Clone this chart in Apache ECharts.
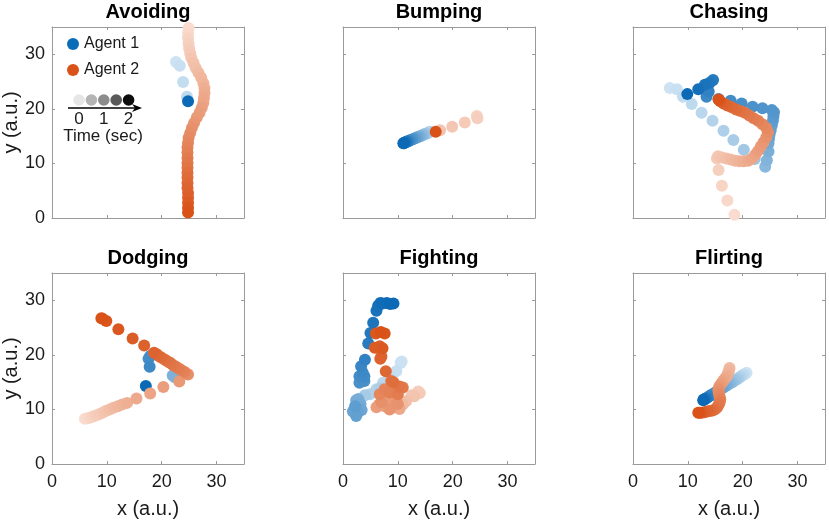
<!DOCTYPE html>
<html>
<head>
<meta charset="utf-8">
<script src="https://cdn.jsdelivr.net/npm/echarts@6/dist/echarts.min.js"></script>
<style>
html, body { margin: 0; padding: 0; background: #fff; }
#chart { width: 829px; height: 524px; }
</style>
</head>
<body>
<div id="chart"></div>
<script>
var panelTitles = ['Avoiding', 'Bumping', 'Chasing', 'Dodging', 'Fighting', 'Flirting'];
var agentNames = ['Agent 1', 'Agent 2'];
var axisMin = 0, axisMax = 35, axisStep = 10;
var timeTicks = ['0', '1', '2'];
var timeShades = ['#e6e6e6', '#b4b4b4', '#8c8c8c', '#5a5a5a', '#0d0d0d'];

// each point: [x, y, time in sec]
var avoidA1 = [[22.6, 28.6, 0.0], [23.3, 27.9, 0.05], [23.9, 24.9, 0.1], [24.6, 22.2, 0.15], [24.8, 21.4, 2.0]];
var avoidA2 = [
    [24.9, 34.8, 0.0], [24.8, 33.9, 0.05], [24.8, 33.0, 0.11], [24.9, 32.0, 0.16], [25.0, 31.1, 0.22],
    [25.2, 30.2, 0.27], [25.4, 29.3, 0.32], [25.8, 28.4, 0.38], [26.2, 27.5, 0.43], [26.7, 26.6, 0.49],
    [27.2, 25.7, 0.54], [27.6, 24.7, 0.59], [27.8, 23.8, 0.65], [27.8, 22.9, 0.70], [27.7, 22.0, 0.76],
    [27.6, 21.1, 0.81], [27.3, 20.2, 0.86], [26.9, 19.3, 0.92], [26.4, 18.4, 0.97], [25.9, 17.4, 1.03],
    [25.5, 16.5, 1.08], [25.2, 15.6, 1.14], [24.9, 14.7, 1.19], [24.8, 13.8, 1.24], [24.7, 12.9, 1.30],
    [24.7, 12.0, 1.35], [24.7, 11.0, 1.41], [24.7, 10.1, 1.46], [24.7, 9.2, 1.51], [24.7, 8.3, 1.57],
    [24.7, 7.4, 1.62], [24.7, 6.4, 1.68], [24.7, 5.5, 1.73], [24.8, 4.6, 1.78], [24.8, 3.7, 1.84],
    [24.8, 2.8, 1.89], [24.8, 1.9, 1.95], [24.8, 1.0, 2.0]
];
var bumpA1 = [
    [15.9, 15.8, 0.2], [15.6, 15.7, 0.3], [15.3, 15.5, 0.4], [15.0, 15.4, 0.5], [14.7, 15.3, 0.6],
    [14.4, 15.1, 0.7], [14.1, 15.0, 0.8], [13.8, 14.9, 0.9], [13.5, 14.8, 1.0], [13.2, 14.6, 1.1],
    [12.9, 14.5, 1.2], [12.6, 14.4, 1.3], [12.3, 14.3, 1.4], [12.0, 14.1, 1.5], [11.8, 14.0, 1.6],
    [11.6, 14.0, 1.7], [11.4, 13.9, 1.8], [11.2, 13.8, 1.9], [11.1, 13.7, 1.95], [11.0, 13.7, 2.0]
];
var bumpA2 = [[24.4, 18.7, 0.15], [24.5, 18.3, 0.2], [22.2, 17.5, 0.25], [19.9, 16.7, 0.3], [17.7, 16.1, 0.35], [16.9, 15.8, 2.0]];
var chaseA1 = [
    [6.7, 23.8, 0.0], [8.0, 23.6, 0.05], [9.1, 22.2, 0.1], [10.7, 20.9, 0.15], [12.5, 19.3, 0.2],
    [14.5, 17.8, 0.26], [16.5, 16.0, 0.32], [18.3, 14.3, 0.38], [20.2, 12.5, 0.44], [22.2, 10.8, 0.5],
    [24.1, 9.4, 0.7], [24.4, 10.6, 0.78], [24.7, 12.2, 0.86],
    [24.7, 13.7, 0.95], [24.8, 14.5, 1.0], [24.9, 15.3, 1.04], [25.1, 16.1, 1.08], [25.3, 17.0, 1.12],
    [25.5, 17.8, 1.16], [25.6, 18.6, 1.2], [25.7, 19.4, 1.24], [25.3, 19.8, 1.27],
    [23.6, 20.1, 1.3], [21.8, 20.4, 1.34], [19.8, 21.0, 1.38], [17.8, 21.5, 1.42], [15.6, 21.8, 1.46], [13.4, 22.2, 1.5],
    [13.8, 23.2, 1.6], [14.6, 25.3, 1.72], [14.0, 24.8, 1.78], [13.1, 24.4, 1.84], [11.9, 23.6, 1.9], [9.9, 22.7, 2.0]
];
var chaseA2 = [
    [18.5, 0.6, 0.0], [17.2, 3.2, 0.06], [16.2, 5.9, 0.12], [15.6, 8.8, 0.18], [15.3, 10.9, 0.24],
    [15.5, 11.3, 0.3], [16.2, 11.1, 0.36], [17.0, 10.9, 0.42], [17.8, 10.7, 0.48], [18.6, 10.5, 0.54],
    [19.4, 10.4, 0.6], [20.2, 10.4, 0.66], [21.0, 10.5, 0.72], [21.7, 10.9, 0.78], [22.3, 11.6, 0.84],
    [22.8, 12.3, 0.9], [23.3, 13.1, 0.96], [23.8, 13.9, 1.02], [24.3, 14.8, 1.08], [24.6, 15.7, 1.14],
    [24.3, 16.5, 1.2], [23.6, 17.2, 1.26], [22.8, 17.8, 1.32], [22.0, 18.3, 1.38], [21.2, 18.8, 1.44],
    [20.4, 19.3, 1.5], [19.6, 19.6, 1.56], [18.8, 19.9, 1.62], [18.0, 20.3, 1.68], [17.2, 20.6, 1.74],
    [16.5, 21.0, 1.8], [15.9, 21.4, 1.88], [15.6, 21.7, 2.0]
];
var dodgeA1 = [[22.0, 16.2, 0.8], [22.4, 15.9, 0.82], [17.9, 19.8, 1.4], [17.6, 19.3, 1.42], [17.8, 17.8, 1.48], [17.1, 14.3, 2.0]];
var dodgeA2 = [
    [6.0, 8.3, 0.0], [6.5, 8.4, 0.05], [7.0, 8.5, 0.1], [7.5, 8.7, 0.15], [8.0, 8.9, 0.2],
    [8.6, 9.1, 0.25], [9.2, 9.4, 0.3], [9.8, 9.7, 0.36], [10.5, 10.0, 0.42], [11.2, 10.3, 0.48],
    [12.0, 10.6, 0.54], [12.8, 10.9, 0.6], [13.7, 11.2, 0.66],
    [15.4, 12.0, 0.74], [17.9, 12.9, 0.82], [20.3, 14.1, 0.9], [23.2, 15.1, 0.98],
    [24.8, 16.4, 1.1], [24.5, 16.6, 1.16],
    [24.1, 16.9, 1.3], [23.6, 17.2, 1.34], [23.1, 17.5, 1.38], [22.6, 17.8, 1.42], [22.1, 18.1, 1.46],
    [21.6, 18.5, 1.5], [21.1, 18.8, 1.54], [20.6, 19.1, 1.58], [20.1, 19.4, 1.62], [19.6, 19.7, 1.66],
    [19.1, 20.1, 1.7], [18.6, 20.4, 1.75],
    [16.8, 21.7, 1.8], [14.7, 23.0, 1.86], [12.1, 24.7, 1.92], [9.9, 26.2, 1.96], [9.2, 26.6, 1.98], [9.0, 26.7, 2.0]
];
var fightA1 = [
    [10.7, 18.8, 0.0], [10.5, 18.5, 0.04], [9.7, 17.0, 0.08], [8.5, 16.0, 0.12], [8.0, 14.6, 0.16],
    [7.3, 14.9, 0.2], [6.1, 13.7, 0.25], [4.9, 12.8, 0.3], [6.8, 13.9, 0.34], [4.0, 12.6, 0.4],
    [2.8, 11.9, 0.85], [2.4, 11.7, 0.88], [3.2, 11.0, 0.91], [3.0, 10.4, 0.94], [2.1, 9.9, 0.97],
    [3.4, 9.9, 1.0], [1.8, 9.6, 1.03], [2.7, 9.4, 1.06], [2.4, 8.8, 1.1], [2.2, 10.6, 1.15],
    [3.0, 14.9, 1.35], [3.9, 15.2, 1.38], [3.0, 16.1, 1.41], [3.9, 16.1, 1.44], [3.6, 16.7, 1.48],
    [3.3, 17.9, 1.52], [4.0, 19.1, 1.6],
    [4.6, 22.1, 1.7], [5.0, 24.0, 1.75], [5.5, 25.9, 1.8],
    [6.1, 28.1, 1.85], [6.4, 29.0, 1.88], [6.8, 29.5, 1.91], [7.2, 29.4, 1.94], [8.0, 29.5, 1.96],
    [9.2, 29.4, 1.98], [8.6, 29.3, 2.0]
];
var fightA2 = [
    [13.7, 13.3, 0.2], [14.0, 13.0, 0.25], [12.5, 12.6, 0.3], [13.0, 12.4, 0.35], [11.5, 11.5, 0.42], [10.9, 10.9, 0.5],
    [10.3, 10.1, 0.75], [9.1, 10.4, 0.8], [7.6, 10.6, 0.85], [6.1, 10.4, 0.9], [6.6, 10.9, 0.93],
    [8.2, 11.5, 0.96], [9.7, 11.5, 1.0], [8.5, 10.0, 1.03], [10.0, 11.0, 1.06], [7.0, 11.3, 1.1],
    [6.7, 12.8, 1.25], [7.6, 13.7, 1.3], [8.5, 13.1, 1.35], [10.0, 12.8, 1.4], [10.9, 14.0, 1.45],
    [10.3, 14.2, 1.5], [8.8, 15.2, 1.55], [9.2, 15.0, 1.6],
    [7.8, 17.0, 1.7], [7.0, 19.7, 1.75], [6.8, 19.3, 1.78], [6.7, 21.6, 1.82], [5.8, 21.3, 1.86],
    [7.2, 21.2, 1.9], [6.0, 23.9, 1.94], [7.6, 23.9, 1.97], [6.9, 24.2, 2.0]
];
var flirtA1 = [
    [20.7, 16.7, 0.0], [20.3, 16.4, 0.09], [20.0, 16.3, 0.17], [19.6, 16.0, 0.26], [19.2, 15.7, 0.35],
    [18.9, 15.5, 0.43], [18.5, 15.3, 0.52], [18.1, 15.0, 0.61], [17.7, 14.8, 0.7], [17.3, 14.5, 0.78],
    [16.9, 14.3, 0.87], [16.5, 14.0, 0.96], [16.1, 13.8, 1.04], [15.7, 13.5, 1.13], [15.3, 13.3, 1.22],
    [14.9, 13.0, 1.3], [14.5, 12.8, 1.39], [14.2, 12.6, 1.48], [13.9, 12.4, 1.57], [13.6, 12.2, 1.65],
    [13.3, 12.0, 1.74], [13.1, 11.9, 1.83], [12.9, 11.8, 1.91], [12.8, 11.7, 2.0]
];
var flirtA2 = [
    [17.6, 17.6, 0.5], [17.5, 17.1, 0.56], [17.3, 16.6, 0.62], [17.1, 16.1, 0.69], [16.8, 15.7, 0.75],
    [16.5, 15.3, 0.81], [16.2, 14.9, 0.88], [15.9, 14.5, 0.94], [15.7, 14.1, 1.0], [15.6, 13.7, 1.06],
    [15.6, 13.3, 1.12], [15.7, 12.8, 1.19], [15.8, 12.3, 1.25], [15.9, 11.8, 1.31], [15.8, 11.3, 1.38],
    [15.6, 10.8, 1.44], [15.3, 10.3, 1.5], [14.9, 10.0, 1.56], [14.5, 9.8, 1.62], [14.0, 9.7, 1.69],
    [13.5, 9.6, 1.75], [13.0, 9.5, 1.81], [12.5, 9.4, 1.88], [12.1, 9.4, 1.94], [11.9, 9.4, 2.0]
];

var panels = [
    [avoidA1, avoidA2],
    [bumpA1, bumpA2],
    [chaseA1, chaseA2],
    [dodgeA1, dodgeA2],
    [fightA1, fightA2],
    [flirtA1, flirtA2]
];

var blueRamp = ['#cde3f3', '#0b69b6'];
var orangeRamp = ['#f9dccf', '#d95319'];
var legendColors = ['#0b6cb8', '#d95319'];

var cellLeft = [52, 343, 633];
var cellTop = [27, 273];
var cellW = 192, cellH = 191;
var boxColor = '#9a9a9a';
var textColor = '#1a1a1a';
var font = '"Liberation Sans", Arial, Helvetica, sans-serif';

var grid = [], xAxis = [], yAxis = [], series = [];

panelTitles.forEach(function(title, i) {
    var row = Math.floor(i / 3), col = i % 3;
    grid.push({left: cellLeft[col], top: cellTop[row], width: cellW, height: cellH});

    var base = {
        gridIndex: i, type: 'value', min: axisMin, max: axisMax, interval: axisStep,
        axisLine: {show: true, onZero: false, lineStyle: {color: boxColor, width: 1}},
        axisTick: {show: true, inside: true, length: 3, lineStyle: {color: boxColor}},
        splitLine: {show: false}
    };
    var labelStyle = {color: textColor, fontSize: 18, fontFamily: font, showMaxLabel: false};

    xAxis.push(Object.assign({}, base, {
        position: 'bottom',
        axisLabel: Object.assign({show: row === 1, margin: 9}, labelStyle),
        name: row === 1 ? 'x (a.u.)' : '',
        nameLocation: 'middle', nameGap: 35,
        nameTextStyle: {fontSize: 20, color: textColor, fontFamily: font}
    }));
    xAxis.push(Object.assign({}, base, {
        position: 'top',
        axisLabel: {show: false},
        name: title,
        nameLocation: 'middle', nameGap: 5,
        nameTextStyle: {fontSize: 20, fontWeight: 'bold', color: '#000', fontFamily: font}
    }));
    yAxis.push(Object.assign({}, base, {
        position: 'left',
        axisLabel: Object.assign({show: col === 0, margin: 7}, labelStyle),
        name: col === 0 ? 'y (a.u.)' : '',
        nameLocation: 'middle', nameGap: 29,
        nameTextStyle: {fontSize: 20, color: textColor, fontFamily: font}
    }));
    yAxis.push(Object.assign({}, base, {
        position: 'right',
        axisLabel: {show: false}
    }));

    panels[i].forEach(function(track, k) {
        series.push({
            type: 'scatter',
            name: agentNames[k],
            xAxisIndex: 2 * i,
            yAxisIndex: 2 * i,
            data: track,
            symbol: 'circle',
            symbolSize: 12,
            itemStyle: {opacity: 1},
            z: 2 + k,
            silent: true
        });
    });
});

// time legend inside the first panel
var ox = cellLeft[0], oy = cellTop[0];
var graphics = [];
timeShades.forEach(function(c, j) {
    graphics.push({type: 'circle', shape: {cx: ox + 27 + 12.4 * j, cy: oy + 73, r: 5.8}, style: {fill: c}});
});
graphics.push({type: 'line', shape: {x1: ox + 16, y1: oy + 81, x2: ox + 84, y2: oy + 81}, style: {stroke: '#000', lineWidth: 1.3}});
graphics.push({type: 'polygon', shape: {points: [[ox + 90, oy + 81], [ox + 80, oy + 77], [ox + 83, oy + 81], [ox + 80, oy + 85]]}, style: {fill: '#000'}});
timeTicks.forEach(function(t, j) {
    graphics.push({type: 'text', x: ox + 27 + 24.8 * j, y: oy + 92,
        style: {text: t, fill: textColor, font: '17px ' + font, align: 'center', verticalAlign: 'middle', textAlign: 'center', textVerticalAlign: 'middle'}});
});
graphics.push({type: 'text', x: ox + 51, y: oy + 109,
    style: {text: 'Time (sec)', fill: textColor, font: '17px ' + font, align: 'center', verticalAlign: 'middle', textAlign: 'center', textVerticalAlign: 'middle'}});

var myChart = echarts.init(document.getElementById('chart'), null, {renderer: 'canvas'});
var option = {
    animation: false,
    backgroundColor: '#fff',
    textStyle: {fontFamily: font},
    grid: grid,
    xAxis: xAxis,
    yAxis: yAxis,
    legend: {
        orient: 'vertical',
        left: 62, top: 31,
        itemWidth: 12, itemHeight: 12, itemGap: 10,
        icon: 'circle',
        selectedMode: false,
        textStyle: {fontSize: 16, color: textColor, fontFamily: font},
        data: agentNames.map(function(n, k) {
            return {name: n, itemStyle: {color: legendColors[k], opacity: 1}};
        })
    },
    visualMap: [
        {type: 'continuous', show: false, dimension: 2, min: 0, max: 2,
            seriesIndex: [0, 2, 4, 6, 8, 10], inRange: {color: blueRamp}},
        {type: 'continuous', show: false, dimension: 2, min: 0, max: 2,
            seriesIndex: [1, 3, 5, 7, 9, 11], inRange: {color: orangeRamp}}
    ],
    graphic: graphics,
    series: series
};
myChart.setOption(option, true);
</script>
</body>
</html>
